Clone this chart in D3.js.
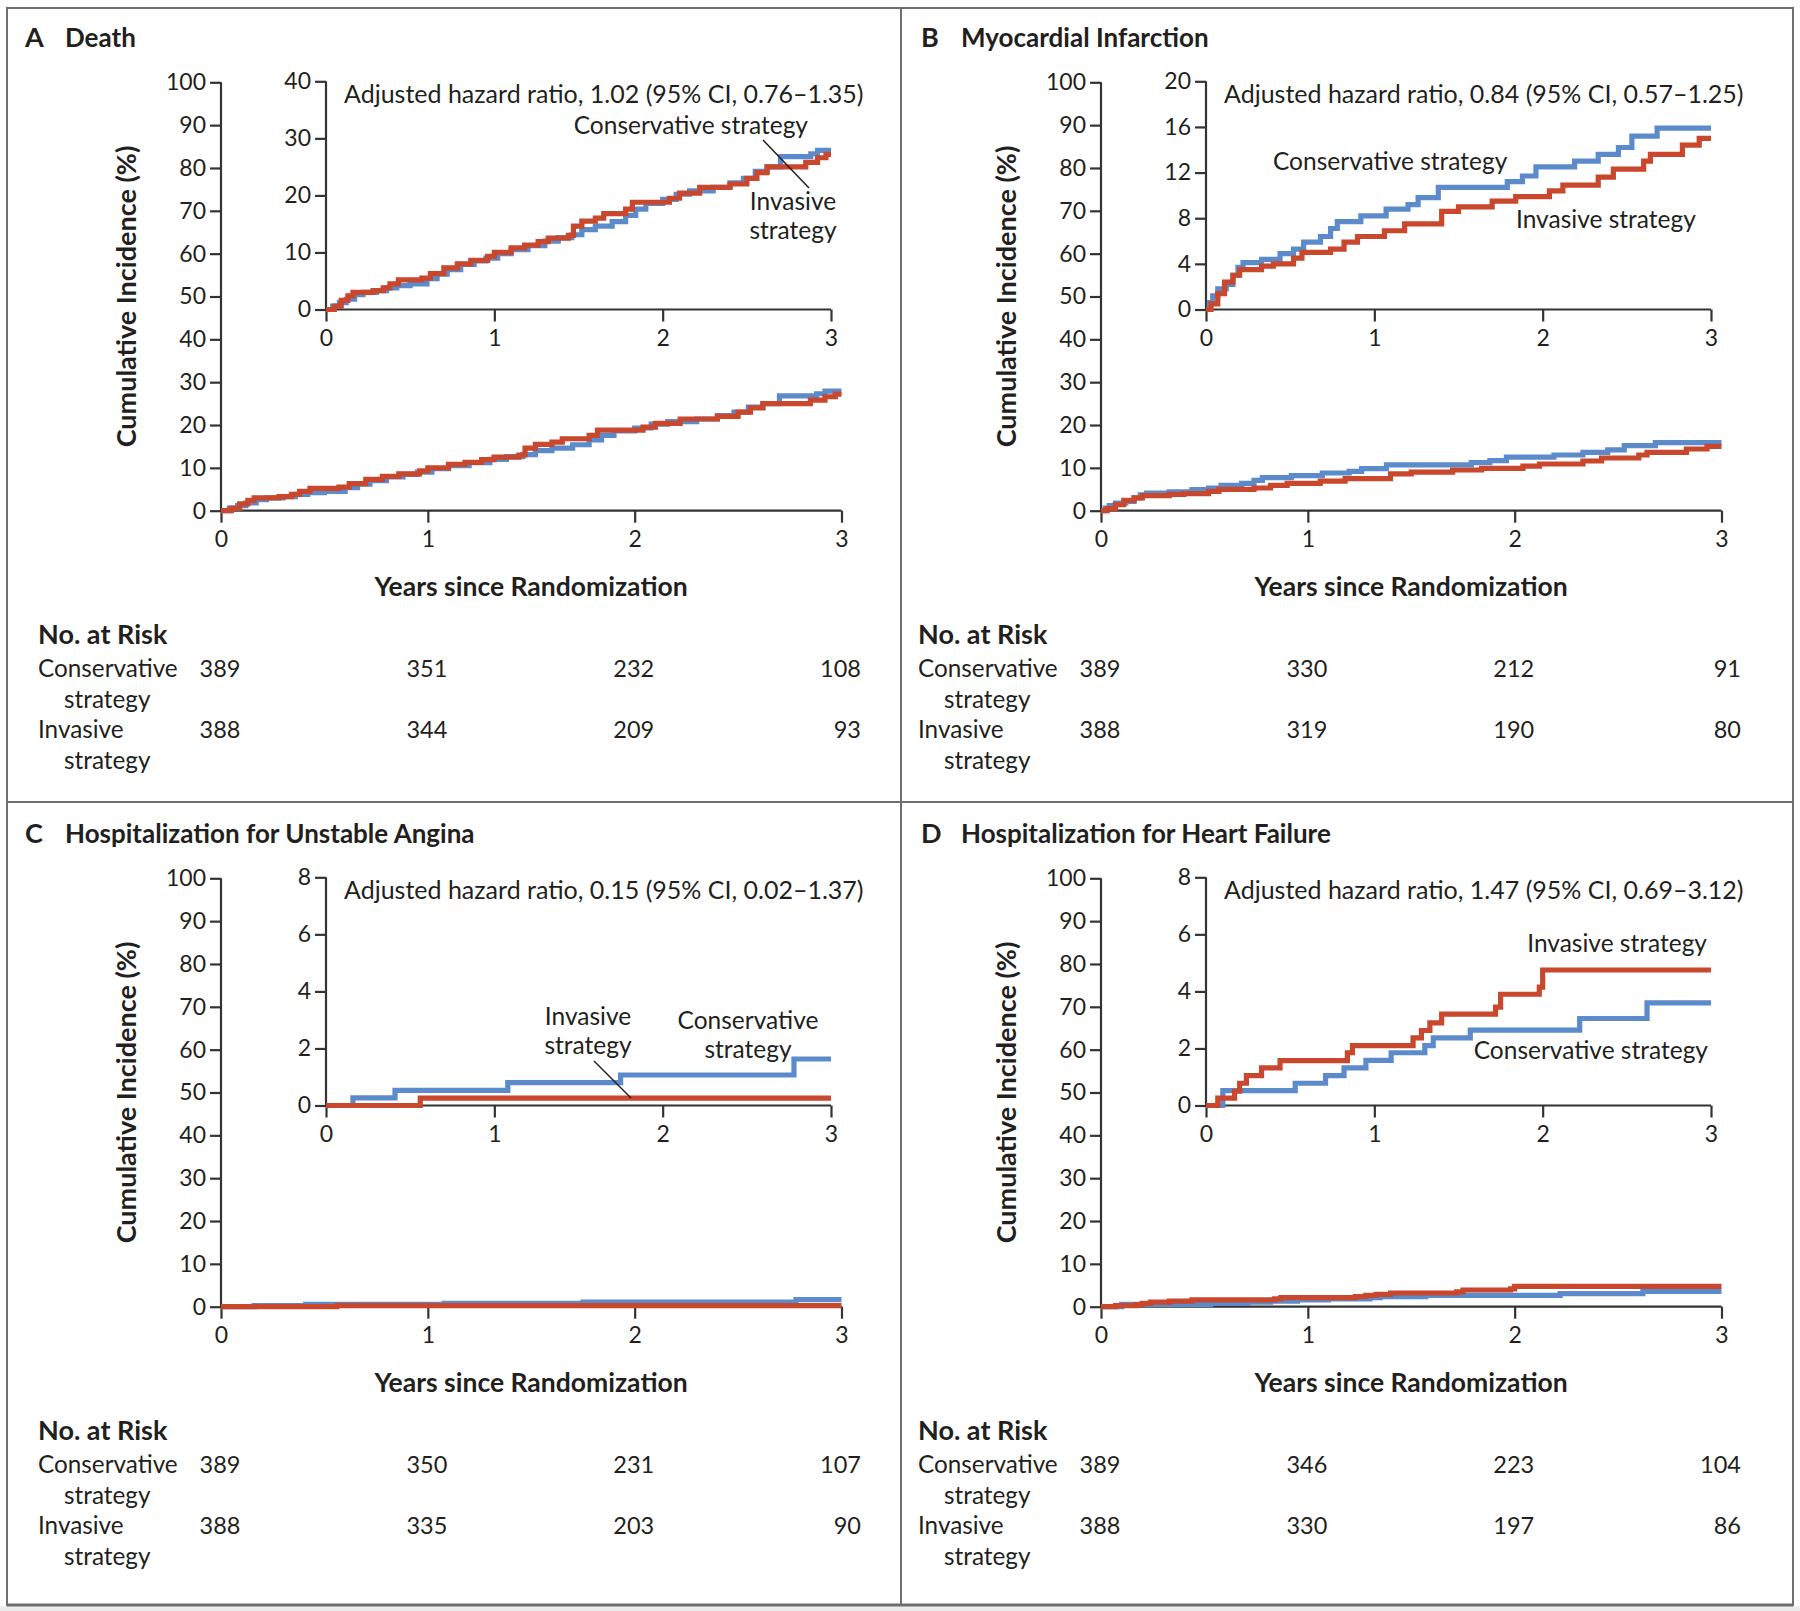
<!DOCTYPE html>
<html><head><meta charset="utf-8">
<script src="https://cdn.jsdelivr.net/npm/d3@7"></script>
<style>
html,body{margin:0;padding:0;background:#fff;}
svg text{font-family:Lato,"Open Sans",sans-serif;fill:#231f20;}
</style></head>
<body>
<svg id="chart" width="1800" height="1611"></svg>
<script>
// ---------------- DATA ----------------
const panelLetters = ["A", "B", "C", "D"];
const panelTitles = ["Death", "Myocardial Infarction", "Hospitalization for Unstable Angina", "Hospitalization for Heart Failure"];
const hazardTexts = [
  "Adjusted hazard ratio, 1.02 (95% CI, 0.76\u20131.35)",
  "Adjusted hazard ratio, 0.84 (95% CI, 0.57\u20131.25)",
  "Adjusted hazard ratio, 0.15 (95% CI, 0.02\u20131.37)",
  "Adjusted hazard ratio, 1.47 (95% CI, 0.69\u20133.12)"
];
const xTicks = [0, 1, 2, 3];
const mainYTicks = [0, 10, 20, 30, 40, 50, 60, 70, 80, 90, 100];
const insetYMax = [40, 20, 8, 8];
const insetYTicks = [[0, 10, 20, 30, 40], [0, 4, 8, 12, 16, 20], [0, 2, 4, 6, 8], [0, 2, 4, 6, 8]];
const riskRowLabels = [["Conservative", "strategy"], ["Invasive", "strategy"]];
const riskConservative = [[389, 351, 232, 108], [389, 330, 212, 91], [389, 350, 231, 107], [389, 346, 223, 104]];
const riskInvasive = [[388, 344, 209, 93], [388, 319, 190, 80], [388, 335, 203, 90], [388, 330, 197, 86]];

// Kaplan-Meier style step curves: [years, cumulative incidence %]
const deathConservative = [[0,0],[0.04,0.6],[0.08,1.2],[0.12,1.8],[0.17,2.6],[0.22,3.0],[0.3,3.3],[0.36,3.8],[0.42,4.2],[0.5,4.5],[0.6,5.4],[0.66,6.2],[0.72,7.0],[0.8,7.9],[0.88,8.5],[0.95,9.0],[1.02,9.8],[1.1,10.5],[1.2,11.2],[1.3,12.0],[1.38,12.6],[1.46,13.1],[1.52,14.0],[1.6,14.6],[1.7,15.4],[1.78,16.5],[1.84,17.6],[1.9,18.6],[2.0,19.3],[2.08,20.2],[2.16,20.8],[2.3,21.4],[2.4,22.2],[2.48,23.0],[2.55,24.2],[2.62,25.0],[2.7,26.8],[2.88,27.3],[2.92,27.9],[3.0,27.9]];
const deathInvasive = [[0,0],[0.05,0.6],[0.09,1.6],[0.13,2.4],[0.16,3.0],[0.28,3.3],[0.34,3.8],[0.38,4.5],[0.43,5.2],[0.57,5.5],[0.62,6.3],[0.7,7.3],[0.78,8.0],[0.86,8.6],[0.96,9.3],[1.0,10.0],[1.1,10.8],[1.18,11.3],[1.26,11.9],[1.32,12.5],[1.44,13.0],[1.47,14.6],[1.52,15.5],[1.6,16.0],[1.65,16.8],[1.78,17.6],[1.82,18.8],[2.04,19.5],[2.1,20.4],[2.22,21.4],[2.4,22.0],[2.5,23.0],[2.56,24.0],[2.62,25.0],[2.85,25.8],[2.92,26.6],[2.97,27.2],[3.0,27.2]];
const miConservative = [[0,0],[0.02,0.6],[0.04,1.2],[0.07,1.8],[0.12,2.2],[0.16,3.0],[0.19,3.7],[0.22,4.1],[0.33,4.4],[0.44,4.9],[0.52,5.3],[0.58,5.9],[0.68,6.4],[0.74,7.1],[0.78,7.7],[0.92,8.2],[1.07,8.8],[1.2,9.2],[1.26,9.8],[1.38,10.7],[1.79,11.2],[1.88,11.7],[1.96,12.5],[2.19,13.0],[2.33,13.6],[2.45,14.2],[2.53,15.2],[2.68,15.9],[3.0,15.9]];
const miInvasive = [[0,0],[0.03,0.5],[0.07,1.4],[0.11,2.4],[0.16,3.0],[0.2,3.5],[0.33,3.8],[0.4,4.0],[0.52,4.5],[0.57,5.0],[0.74,5.3],[0.82,5.9],[0.9,6.4],[1.06,6.9],[1.18,7.5],[1.4,8.6],[1.5,9.0],[1.7,9.5],[1.84,9.9],[2.04,10.4],[2.12,10.9],[2.33,11.6],[2.42,12.3],[2.6,13.0],[2.64,13.6],[2.83,14.4],[2.93,15.0],[3.0,15.0]];
const uaConservative = [[0,0],[0.16,0.27],[0.41,0.53],[1.08,0.8],[1.75,1.07],[2.78,1.63],[3.0,1.63]];
const uaInvasive = [[0,0],[0.56,0.26],[3.0,0.26]];
const hfConservative = [[0,0],[0.1,0.52],[0.53,0.78],[0.71,1.05],[0.82,1.32],[0.95,1.58],[1.1,1.85],[1.3,2.1],[1.35,2.37],[1.57,2.64],[2.22,3.05],[2.62,3.6],[3.0,3.6]];
const hfInvasive = [[0,0],[0.07,0.26],[0.17,0.5],[0.2,0.78],[0.24,1.05],[0.33,1.32],[0.44,1.57],[0.84,1.85],[0.87,2.1],[1.23,2.37],[1.28,2.63],[1.33,2.9],[1.4,3.2],[1.72,3.45],[1.75,3.9],[1.98,4.15],[2.0,4.75],[3.0,4.75]];

const conservativeSeries = [deathConservative, miConservative, uaConservative, hfConservative];
const invasiveSeries = [deathInvasive, miInvasive, uaInvasive, hfInvasive];

// ---------------- LAYOUT / STYLE ----------------
const BLUE = "#5b8bcb", RED = "#c9472c", AXIS = "#333";
const offsets = [[0, 0], [880, 0], [0, 796], [880, 796]];
const headingShift = [0, 16, 0, 16];
const svg = d3.select("#chart");

// frame
const frame = svg.append("g");
frame.append("rect").attr("x", 0).attr("y", 1606).attr("width", 1800).attr("height", 5).attr("fill", "#ececec");
frame.append("rect").attr("x", 7).attr("y", 8).attr("width", 1786).attr("height", 1597)
  .attr("fill", "none").attr("stroke", "#6e6e6e").attr("stroke-width", 2);
frame.append("line").attr("x1", 7).attr("x2", 1793).attr("y1", 1605).attr("y2", 1605).attr("stroke", "#6e6e6e").attr("stroke-width", 3);
frame.append("line").attr("x1", 901).attr("x2", 901).attr("y1", 8).attr("y2", 1605).attr("stroke", "#6e6e6e").attr("stroke-width", 2);
frame.append("line").attr("x1", 7).attr("x2", 1793).attr("y1", 802).attr("y2", 802).attr("stroke", "#6e6e6e").attr("stroke-width", 2);

// per-panel inset labels (positions relative to panel)
const insetLabels = [
  {texts: [{t: "Conservative strategy", x: 808, y: 134, a: "end"}, {t: "Invasive", x: 793, y: 210, a: "middle"}, {t: "strategy", x: 793, y: 239, a: "middle"}],
   line: [763, 140, 809, 188]},
  {texts: [{t: "Conservative strategy", x: 393, y: 170, a: "start"}, {t: "Invasive strategy", x: 636, y: 228, a: "start"}], line: null},
  {texts: [{t: "Invasive", x: 588, y: 229, a: "middle"}, {t: "strategy", x: 588, y: 258, a: "middle"},
           {t: "Conservative", x: 748, y: 233, a: "middle"}, {t: "strategy", x: 748, y: 262, a: "middle"}],
   line: [594, 265, 631, 302]},
  {texts: [{t: "Invasive strategy", x: 827, y: 156, a: "end"}, {t: "Conservative strategy", x: 828, y: 263, a: "end"}], line: null}
];

function drawAxes(g, xs, ys, yTicks) {
  const ax = g.append("g").attr("transform", `translate(0,${ys(0)})`)
    .call(d3.axisBottom(xs).tickValues(xTicks).tickSize(12).tickPadding(8).tickFormat(d3.format("d")));
  const ay = g.append("g").attr("transform", `translate(${xs(0)},0)`)
    .call(d3.axisLeft(ys).tickValues(yTicks).tickSize(11).tickPadding(4).tickFormat(d3.format("d")));
  [ax, ay].forEach(a => {
    a.select(".domain").attr("stroke", AXIS).attr("stroke-width", 2.2);
    a.selectAll(".tick line").attr("stroke", AXIS).attr("stroke-width", 2.2);
    a.selectAll(".tick text").attr("font-size", 23).attr("fill", "#231f20").attr("font-family", "Lato, sans-serif");
  });
  ax.select(".domain").attr("d", `M${xs.range()[0]},0H${xs.range()[1]}`);
  ay.select(".domain").attr("d", `M0,${ys.range()[1]}V${ys.range()[0]}`);
}

function drawCurves(g, xs, ys, i) {
  const line = d3.line().x(d => xs(d[0])).y(d => ys(d[1])).curve(d3.curveStepAfter);
  g.append("path").datum(conservativeSeries[i]).attr("d", line)
    .attr("fill", "none").attr("stroke", BLUE).attr("stroke-width", 5.2).attr("stroke-linejoin", "miter");
  g.append("path").datum(invasiveSeries[i]).attr("d", line)
    .attr("fill", "none").attr("stroke", RED).attr("stroke-width", 5.2).attr("stroke-linejoin", "miter");
}

for (let i = 0; i < 4; i++) {
  const [dx, dy] = offsets[i];
  const g = svg.append("g").attr("transform", `translate(${dx},${dy})`);

  // panel heading
  g.append("text").attr("x", 25 + headingShift[i]).attr("y", 47).attr("font-size", 27).attr("font-weight", 700).text(panelLetters[i]);
  g.append("text").attr("x", 65 + headingShift[i]).attr("y", 47).attr("font-size", 26).attr("font-weight", 700).text(panelTitles[i]);

  // main plot
  const xMain = d3.scaleLinear().domain([0, 3]).range([221, 841.5]);
  const yMain = d3.scaleLinear().domain([0, 100]).range([510.7, 82.3]);
  drawAxes(g, xMain, yMain, mainYTicks);
  drawCurves(g, xMain, yMain, i);

  g.append("text").attr("transform", `translate(136,296.5) rotate(-90)`).attr("text-anchor", "middle")
    .attr("font-size", 27).attr("font-weight", 700).text("Cumulative Incidence (%)");
  g.append("text").attr("x", 531).attr("y", 596).attr("text-anchor", "middle")
    .attr("font-size", 26.5).attr("font-weight", 700).text("Years since Randomization");

  // inset plot
  const xIn = d3.scaleLinear().domain([0, 3]).range([326, 831]);
  const yIn = d3.scaleLinear().domain([0, insetYMax[i]]).range([309.5, 81.3]);
  drawAxes(g, xIn, yIn, insetYTicks[i]);
  drawCurves(g, xIn, yIn, i);
  g.append("text").attr("x", 344).attr("y", 103).attr("font-size", 25).text(hazardTexts[i]);

  const lab = insetLabels[i];
  lab.texts.forEach(t => g.append("text").attr("x", t.x).attr("y", t.y).attr("text-anchor", t.a).attr("font-size", 24.5).text(t.t));
  if (lab.line) {
    g.append("line").attr("x1", lab.line[0]).attr("y1", lab.line[1]).attr("x2", lab.line[2]).attr("y2", lab.line[3])
      .attr("stroke", "#231f20").attr("stroke-width", 1.5);
  }

  // number at risk
  g.append("text").attr("x", 38).attr("y", 644).attr("font-size", 27).attr("font-weight", 700).text("No. at Risk");
  const rows = [riskConservative[i], riskInvasive[i]];
  const rowY = [677, 738];
  rows.forEach((vals, r) => {
    g.append("text").attr("x", 38).attr("y", rowY[r]).attr("font-size", 24.3).text(riskRowLabels[r][0]);
    g.append("text").attr("x", 64).attr("y", rowY[r] + 31).attr("font-size", 24.3).text(riskRowLabels[r][1]);
    g.selectAll(null).data(vals).enter().append("text")
      .attr("x", (d, k) => xMain(xTicks[k]) + 19.5).attr("y", rowY[r]).attr("text-anchor", "end")
      .attr("font-size", 23.5).text(d => d);
  });
}
</script>
</body></html>
